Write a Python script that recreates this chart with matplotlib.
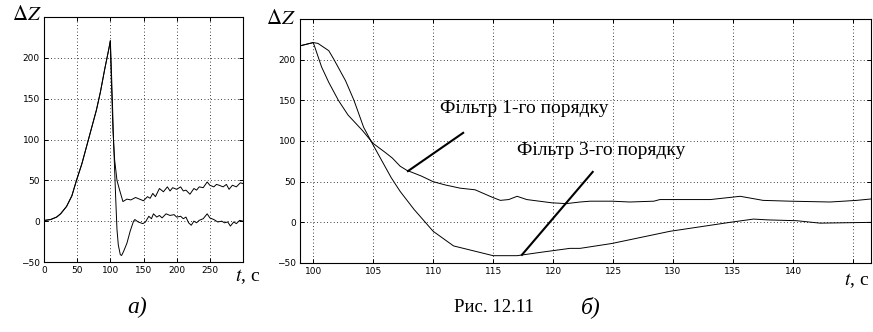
import numpy as np
import matplotlib
matplotlib.use("Agg")
import matplotlib.pyplot as plt

plt.rcParams['font.family'] = ['Liberation Serif', 'DejaVu Serif']
plt.rcParams['mathtext.fontset'] = 'stix'

# panel a) : whole transient, t = 0..300 s
t_rise = [0, 1.5, 10, 19, 25, 34, 42, 49, 57, 64, 71, 79, 85, 91.5, 98, 100]
z_rise = [0, 1, 2, 5, 9, 18, 31, 50, 70, 91, 112, 136, 158, 186, 212, 221]
t1_a = t_rise + [100.5, 102, 104, 106.5, 110, 114, 119,
        125, 131, 138, 144, 150, 156, 160, 164, 168, 174, 180, 186, 190, 194, 200, 206, 210,
        214, 220, 226, 230, 234, 240, 246, 250, 256, 260, 264, 270, 275, 279, 284, 290, 296, 300]
z1_a = z_rise + [200, 160, 110, 75, 50, 38, 24,
        27, 26, 29, 27, 25, 30, 28, 34, 30, 40, 36, 42, 37, 41, 39, 42, 37,
        38, 33, 40, 38, 42, 41, 48, 44, 42, 45, 44, 42, 45, 39, 44, 42, 47, 46]
t3_a = t_rise + [101, 103, 105, 108, 110, 112, 115, 117,
        120, 125, 130, 135, 137, 142, 149, 153, 158, 162, 165, 170, 174, 178, 184, 190, 196,
        200, 206, 210, 214, 218, 222, 226, 230, 234, 240, 246, 250, 256, 262, 268, 272, 277,
        281, 286, 290, 295, 300]
z3_a = z_rise + [200, 150, 95, 30, -10, -29, -41, -42,
        -37, -27, -12, 0, 2, -1, -3, -1, 6, 3, 9, 5, 7, 4, 9, 7, 8,
        5, 6, 3, 5, -2, -5, 0, -2, 1, 3, 9, 4, 2, -1, 0, -2, -1,
        -6, -1, -3, 1, 0]

# panel б) : zoom 99..147 s
t1_b = [98.9, 100.0, 100.1, 100.7, 101.3, 102.1, 102.9, 104.1, 105.0, 106.0, 106.6, 107.25, 107.8,
        109, 110.0, 111, 112.25, 113.5, 114.9, 115.6, 116.3, 117.0, 117.8, 119.9, 121.1, 122.25,
        123.1, 124.9, 126.4, 128.4, 128.9, 133.1, 135.6, 137.5, 139.75, 143.1, 145.3, 146.7]
z1_b = [217, 221, 217, 191, 172, 150, 132, 113, 97, 86, 79, 69, 64,
        57, 50, 46, 42, 40, 31, 27, 28, 32, 28, 24, 23, 25,
        26, 26, 25, 26, 28, 28, 32, 27, 26, 25, 27, 29]
t3_b = [98.9, 100.0, 100.4, 101.3, 101.7, 102.7, 103.4, 104.2, 105.0, 105.6, 106.5, 107.25, 108.4,
        110, 111.7, 112.8, 115.0, 117.0, 118.9, 121.4, 122.25, 124.9, 129.75, 134.75, 136.7,
        137.9, 140.3, 142.25, 146.7]
z3_b = [217, 221, 220, 211, 201, 174, 150, 117, 95, 79, 55, 38, 16,
        -11, -29, -33, -41, -41, -37, -32, -32, -26, -11, 0, 4,
        3, 2, -1, 0]

yticks = [-50, 0, 50, 100, 150, 200]
xticks_a = [0, 50, 100, 150, 200, 250, 300]
xlabels_a = ['0', '50', '100', '150', '200', '250', '']
xticks_b = [100, 105, 110, 115, 120, 125, 130, 135, 140, 145]
xlabels_b = ['100', '105', '110', '115', '120', '125', '130', '135', '140', '']

W, H = 873, 332
fig = plt.figure(figsize=(W / 100, H / 100), dpi=100)

def px(x, y):
    return x / W, 1 - y / H

def style(ax, xt, xl):
    ax.set_yticks(yticks)
    ax.set_xticks(xt)
    ax.set_xticklabels(xl)
    ax.tick_params(direction='in', length=3, width=0.7, top=True, right=True, pad=3)
    for lab in ax.get_xticklabels() + ax.get_yticklabels():
        lab.set_family(['Liberation Sans Narrow', 'DejaVu Sans'])
        lab.set_fontsize(6.5)
    ax.grid(True, color='k', linestyle=(0, (1, 3)), linewidth=0.6)
    for s in ax.spines.values():
        s.set_linewidth(0.8)

ax1 = fig.add_axes([44 / W, 1 - 262 / H, 199 / W, 245 / H])
ax1.plot(t1_a, z1_a, color='k', lw=0.7)
ax1.plot(t3_a, z3_a, color='k', lw=0.7)
ax1.set_xlim(0, 300)
ax1.set_ylim(-50, 250)
style(ax1, xticks_a, xlabels_a)

ax2 = fig.add_axes([300 / W, 1 - 263 / H, 571 / W, 244 / H])
ax2.plot(t1_b, z1_b, color='k', lw=0.7)
ax2.plot(t3_b, z3_b, color='k', lw=0.7)
ax2.set_xlim(98.9, 146.5)
ax2.set_ylim(-50, 250)
style(ax2, xticks_b, xlabels_b)

# callouts
ax2.plot([107.9, 112.5], [63, 110], color='k', lw=1.5)
ax2.plot([117.4, 123.3], [-40, 62], color='k', lw=1.5)
ax2.text(110.6, 140, 'Фільтр 1-го порядку', fontsize=14, va='center', ha='left')
ax2.text(117.0, 88, 'Фільтр 3-го порядку', fontsize=14, va='center', ha='left')

fig.text(*px(27, 15), r'$\Delta Z$', fontsize=15, ha='center', va='center')
fig.text(*px(281, 19), r'$\Delta Z$', fontsize=15, ha='center', va='center')
fig.text(*px(248, 277), r'$t$, с', fontsize=14, ha='center', va='center')
fig.text(*px(857, 281), r'$t$, с', fontsize=14, ha='center', va='center')
fig.text(*px(137, 307), 'а)', fontsize=17, style='italic', ha='center', va='center')
fig.text(*px(494, 307), 'Рис. 12.11', fontsize=13.5, ha='center', va='center')
fig.text(*px(591, 307), 'б)', fontsize=17, style='italic', ha='center', va='center')

fig.savefig('out.png', dpi=100)
